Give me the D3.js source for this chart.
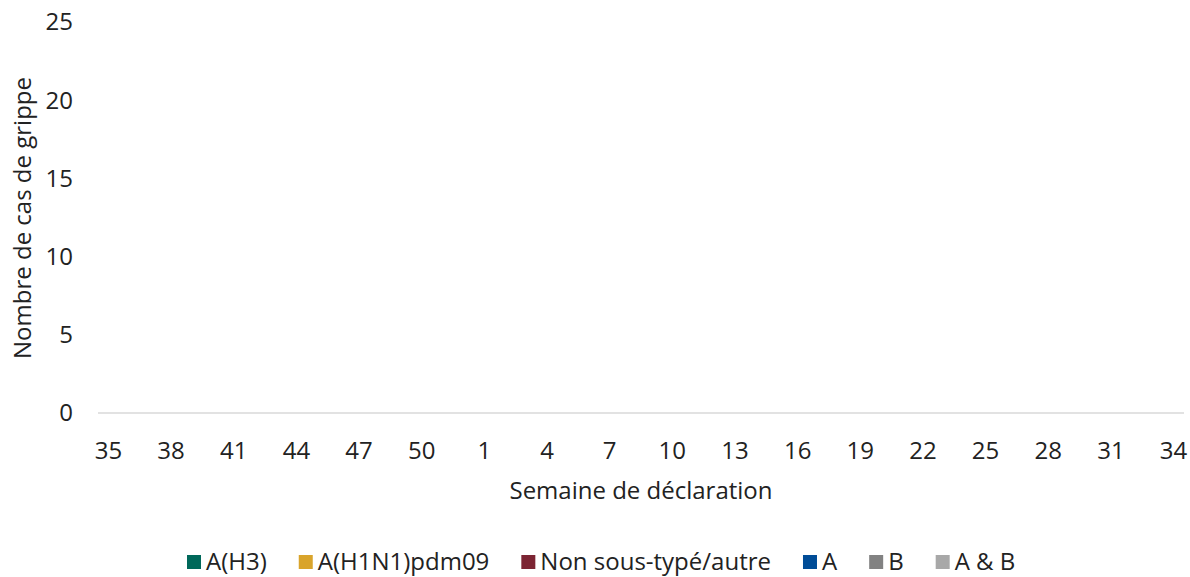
<!DOCTYPE html>
<html lang="fr">
<head>
<meta charset="UTF-8">
<title>Cas de grippe par semaine</title>
<script src="https://d3js.org/d3.v7.min.js"></script>
<style>
  body { margin: 0; background: #fff; }
  svg { font-family: "Open Sans", "Noto Sans", sans-serif; }
</style>
</head>
<body>
<svg id="chart" width="1190" height="577"></svg>
<script>
// semaines de déclaration (35 -> 52, puis 1 -> 34)
const weeks = [35,36,37,38,39,40,41,42,43,44,45,46,47,48,49,50,51,52,
               1,2,3,4,5,6,7,8,9,10,11,12,13,14,15,16,17,18,19,20,21,22,23,24,25,26,27,28,29,30,31,32,33,34];
const weekLabels = [35,38,41,44,47,50,1,4,7,10,13,16,19,22,25,28,31,34];

const seriesNames = ["A(H3)", "A(H1N1)pdm09", "Non sous-typé/autre", "A", "B", "A & B"];
const seriesColors = ["#00685a", "#d9a42b", "#7c2433", "#004c97", "#828282", "#a8a8a8"];

// aucun cas déclaré sur la période
const h3       = [0,0,0,0,0,0,0,0,0,0,0,0,0,0,0,0,0,0,0,0,0,0,0,0,0,0,0,0,0,0,0,0,0,0,0,0,0,0,0,0,0,0,0,0,0,0,0,0,0,0,0,0];
const h1n1     = [0,0,0,0,0,0,0,0,0,0,0,0,0,0,0,0,0,0,0,0,0,0,0,0,0,0,0,0,0,0,0,0,0,0,0,0,0,0,0,0,0,0,0,0,0,0,0,0,0,0,0,0];
const nonSous  = [0,0,0,0,0,0,0,0,0,0,0,0,0,0,0,0,0,0,0,0,0,0,0,0,0,0,0,0,0,0,0,0,0,0,0,0,0,0,0,0,0,0,0,0,0,0,0,0,0,0,0,0];
const typeA    = [0,0,0,0,0,0,0,0,0,0,0,0,0,0,0,0,0,0,0,0,0,0,0,0,0,0,0,0,0,0,0,0,0,0,0,0,0,0,0,0,0,0,0,0,0,0,0,0,0,0,0,0];
const typeB    = [0,0,0,0,0,0,0,0,0,0,0,0,0,0,0,0,0,0,0,0,0,0,0,0,0,0,0,0,0,0,0,0,0,0,0,0,0,0,0,0,0,0,0,0,0,0,0,0,0,0,0,0];
const typeAB   = [0,0,0,0,0,0,0,0,0,0,0,0,0,0,0,0,0,0,0,0,0,0,0,0,0,0,0,0,0,0,0,0,0,0,0,0,0,0,0,0,0,0,0,0,0,0,0,0,0,0,0,0];
const yTicks = [0,5,10,15,20,25];

const allSeries = [h3, h1n1, nonSous, typeA, typeB, typeAB];
const table = weeks.map((w, i) => {
  const row = { week: w };
  seriesNames.forEach((n, k) => row[n] = allSeries[k][i]);
  return row;
});

const svg = d3.select("#chart");
const plotLeft = 98, plotRight = 1184, plotTop = 22, plotBottom = 413;
const fs = 24;

const x = d3.scaleBand().domain(weeks).range([plotLeft, plotRight]).paddingInner(0.5).paddingOuter(0.25);
const xc = d3.scaleBand().domain(weeks).range([plotLeft, plotRight]);
const y = d3.scaleLinear().domain([0, 25]).range([plotBottom, plotTop]);

// y tick labels
svg.append("g").selectAll("text").data(yTicks).join("text")
  .attr("x", 73).attr("y", d => y(d)).attr("dy", "0.35em")
  .attr("text-anchor", "end").attr("font-size", fs).attr("fill", "#222")
  .text(d => d);

// bars
const stacked = d3.stack().keys(seriesNames)(table);
svg.append("g").selectAll("g").data(stacked).join("g")
  .attr("fill", (d, i) => seriesColors[i])
  .selectAll("rect").data(d => d).join("rect")
  .attr("x", d => x(d.data.week)).attr("width", x.bandwidth())
  .attr("y", d => y(d[1])).attr("height", d => y(d[0]) - y(d[1]));

// baseline
svg.append("line")
  .attr("x1", plotLeft).attr("x2", plotRight).attr("y1", y(0)).attr("y2", y(0))
  .attr("stroke", "#d9d9d9").attr("stroke-width", 1.5);

// x tick labels
svg.append("g").selectAll("text").data(weekLabels).join("text")
  .attr("x", d => xc(d) + xc.bandwidth() / 2).attr("y", 459)
  .attr("text-anchor", "middle").attr("font-size", fs).attr("fill", "#222")
  .text(d => d);

// axis titles
svg.append("text").attr("x", 641).attr("y", 499)
  .attr("text-anchor", "middle").attr("font-size", fs).attr("fill", "#222")
  .text("Semaine de déclaration");
svg.append("text").attr("transform", "translate(31,218) rotate(-90)")
  .attr("text-anchor", "middle").attr("font-size", fs).attr("fill", "#222")
  .text("Nombre de cas de grippe");

// legend
const legend = svg.append("g").attr("transform", "translate(187,0)");
let lx = 0;
seriesNames.forEach((n, i) => {
  const g = legend.append("g").attr("transform", `translate(${lx},0)`);
  g.append("rect").attr("x", 0).attr("y", 555).attr("width", 14).attr("height", 14).attr("fill", seriesColors[i]);
  const t = g.append("text").attr("x", 19).attr("y", 570).attr("font-size", fs).attr("fill", "#222").text(n);
  lx += 19 + t.node().getComputedTextLength() + 32;
});
</script>
</body>
</html>
